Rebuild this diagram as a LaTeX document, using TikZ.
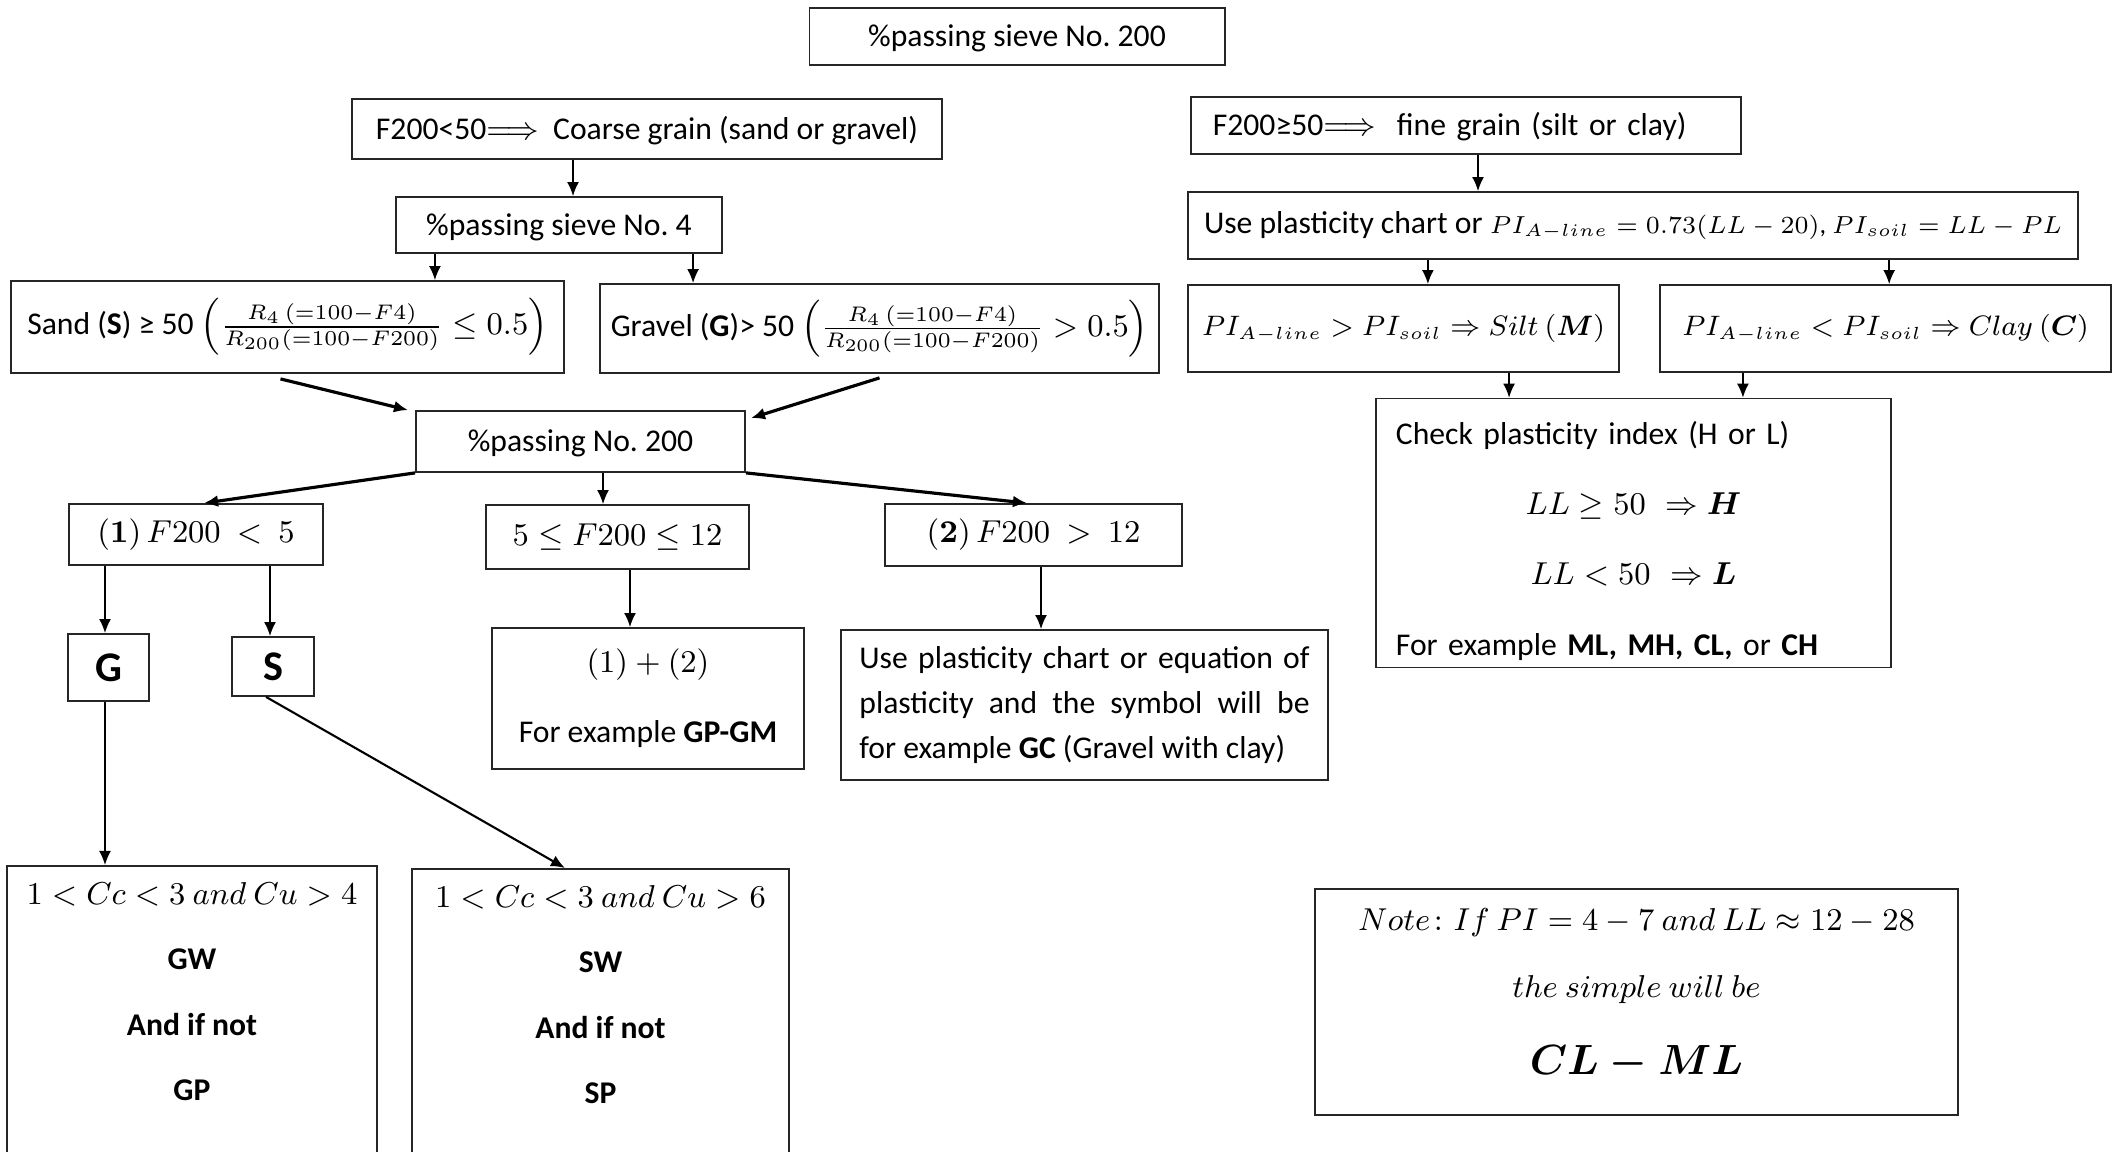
\documentclass[tikz,border=0pt]{standalone}
\usepackage{amsmath,amssymb}
\usepackage[no-math]{fontspec}
\setmainfont{Carlito}
\usetikzlibrary{arrows.meta}

\begin{document}
\begin{tikzpicture}[x=0.01cm, y=-0.01cm]
    \useasboundingbox (0,0) rectangle (2119,1152);

        \begin{scope}[every node/.style={rectangle,draw=black!85,line width=0.5pt,inner sep=2pt,font=\fontsize{9}{11}\selectfont},
                      txt/.style={text height=7.6pt,text depth=1.7pt}]
            % coarse branch
            \node[txt, minimum width=4.15cm, minimum height=0.57cm] (top) at (1017,36.5) {\%passing sieve No.\ 200};
            \node[txt, minimum width=5.89cm, minimum height=0.60cm] (coarse) at (647,129) {F200<50$\Longrightarrow$\ \ Coarse grain (sand or gravel)};
            \node[txt, minimum width=3.26cm, minimum height=0.56cm] (sieve4) at (559,225) {\%passing sieve No.\ 4};
            \node[minimum width=5.53cm, minimum height=0.92cm] (sand) at (287.5,327) {Sand (\textbf{S}) ≥ 50 $\left(\frac{R_4\,(=100-F4)}{R_{200}(=100-F200)} \leq 0.5\right)$};
            \node[minimum width=5.59cm, minimum height=0.89cm] (gravel) at (879.5,328.5) {Gravel (\textbf{G})> 50 $\left(\frac{R_4\,(=100-F4)}{R_{200}(=100-F200)} > 0.5\right)$};
            \node[txt, minimum width=3.29cm, minimum height=0.61cm] (pass200) at (580.5,441.5) {\%passing No.\ 200};
            \node[minimum width=2.54cm, minimum height=0.61cm] (f1) at (196,534.5) {$(\mathbf{1})\,F200\ <\ 5$};
            \node[minimum width=2.63cm, minimum height=0.64cm] (f512) at (617.5,537) {$5 \leq F200 \leq 12$};
            \node[minimum width=2.97cm, minimum height=0.62cm] (f2) at (1033.5,535) {$(\mathbf{2})\,F200\ >\ 12$};
            \node[minimum width=0.81cm, minimum height=0.67cm, font=\fontsize{12}{14}\selectfont\bfseries] (G) at (108.5,667.5) {G};
            \node[minimum width=0.82cm, minimum height=0.59cm, font=\fontsize{12}{14}\selectfont\bfseries] (S) at (273,666.5) {S};
            \node[minimum width=3.12cm, minimum height=1.41cm, align=center, font=\fontsize{9}{20}\selectfont] (ex12) at (648,698.5) {$(1) + (2)$\\ For example \textbf{GP-GM}};
            \node[minimum width=4.87cm, minimum height=1.50cm, text width=4.50cm, align=justify, font=\fontsize{9}{12.7}\selectfont] (gc) at (1084.5,705) {\noindent Use plasticity chart or equation of\linebreak plasticity and the symbol will be\linebreak for example \textbf{GC} (Gravel with clay)};
            \node[anchor=north, inner sep=0.1cm, minimum width=3.70cm] (gw) at (192,865) {\parbox[c][3.2cm][t]{3.4cm}{\centering\fontsize{9}{18.5}\selectfont
                \vspace*{2pt}$1 < Cc < 3\ and\ Cu > 4$\par \textbf{GW}\par \textbf{And if not}\par \textbf{GP}}};
            \node[anchor=north, inner sep=0.1cm, minimum width=3.77cm] (sw) at (600.5,868) {\parbox[c][3.2cm][t]{3.4cm}{\centering\fontsize{9}{18.5}\selectfont
                \vspace*{2pt}$1 < Cc < 3\ and\ Cu > 6$\par \textbf{SW}\par \textbf{And if not}\par \textbf{SP}}};

            % fine branch
            \node[txt, text width=5.06cm, inner xsep=0.22cm, minimum height=0.57cm, align=left] (fine) at (1466,125.5) {F200≥50$\Longrightarrow$\ \ fine grain (silt or clay)};
            \node[minimum width=8.90cm, minimum height=0.67cm] (chart) at (1633,225.5) {Use plasticity chart or {\fontsize{7.5}{10}\selectfont $PI_{A-line} = 0.73(LL-20)$, $PI_{soil} = LL - PL$}};
            \node[minimum width=4.31cm, minimum height=0.87cm, font=\fontsize{7.8}{10}\selectfont] (silt) at (1403.5,328.5) {$PI_{A-line} > PI_{soil} \Rightarrow Silt\ (\boldsymbol{M})$};
            \node[minimum width=4.51cm, minimum height=0.87cm, font=\fontsize{7.8}{10}\selectfont] (clay) at (1885.5,328.5) {$PI_{A-line} < PI_{soil} \Rightarrow Clay\ (\boldsymbol{C})$};
            \node[minimum width=5.15cm, minimum height=2.66cm, text width=4.75cm, inner xsep=0.2cm, font=\fontsize{9}{20}\selectfont] (check) at (1633.5,533) {\raggedright\rule{0pt}{11pt}Check plasticity index (H or L)\par
                \centering $LL \geq 50\ \Rightarrow \boldsymbol{H}$\par
                $LL < 50\ \Rightarrow \boldsymbol{L}$\par
                \raggedright For example \textbf{ML, MH, CL,} or \textbf{CH}\par};
            \node[minimum width=6.43cm, minimum height=2.26cm, align=center, font=\fontsize{9}{19}\selectfont] (note) at (1636.5,1002) {$Note\colon If\ PI = 4 - 7\ and\ LL \approx 12 - 28$\\ $the\ simple\ will\ be$\\[3pt] {\fontsize{11.5}{14}\selectfont $\boldsymbol{CL - ML}$\rule[-6pt]{0pt}{6pt}}};
        \end{scope}

        \begin{scope}[every edge/.style={draw=black,line width=0.45pt}]
            \path [-{Latex[length=4pt,width=3.4pt]}] ([xshift=0.14cm]sieve4.north |- coarse.south) edge ([xshift=0.14cm]sieve4.north);
            \path [-{Latex[length=4pt,width=3.4pt]}] ([xshift=-1.24cm]sieve4.south) edge ([xshift=-1.24cm]sieve4.south |- sand.north);
            \path [-{Latex[length=4pt,width=3.4pt]}] ([xshift=1.34cm]sieve4.south) edge ([xshift=1.34cm]sieve4.south |- gravel.north);

            \path [-{Latex[length=4pt,width=3.4pt]}] ([xshift=0.12cm]fine.south) edge ([xshift=0.12cm]fine.south |- chart.north);
            \path [-{Latex[length=4pt,width=3.4pt]}] ([xshift=-2.05cm]chart.south) edge ([xshift=-2.05cm]chart.south |- silt.north);
            \path [-{Latex[length=4pt,width=3.4pt]}] ([xshift=2.56cm]chart.south) edge ([xshift=2.56cm]chart.south |- clay.north);
            \path [-{Latex[length=4pt,width=3.4pt]}] ([xshift=1.055cm]silt.south) edge ([xshift=1.055cm]silt.south |- check.north);
            \path [-{Latex[length=4pt,width=3.4pt]}] ([xshift=-1.425cm]clay.south) edge ([xshift=-1.425cm]clay.south |- check.north);

            \path [-{Latex[length=4pt,width=3.4pt]}] ([shift={(-0.07cm,-0.05cm)}]sand.south) edge [line width=0.9pt] ([xshift=-0.07cm]pass200.north west);
            \path [-{Latex[length=4pt,width=3.4pt]}] ([yshift=-0.04cm]gravel.south) edge [line width=0.9pt] ([shift={(0.05cm,-0.08cm)}]pass200.north east);
            \path [-{Latex[length=4pt,width=3.4pt]}] (pass200.south west) edge [line width=0.9pt] ([xshift=0.08cm]f1.north);
            \path [-{Latex[length=4pt,width=3.4pt]}] ([xshift=0.225cm]pass200.south) edge ([xshift=0.225cm]pass200.south |- f512.north);
            \path [-{Latex[length=4pt,width=3.4pt]}] (pass200.south east) edge [line width=0.9pt] ([xshift=-0.065cm]f2.north);

            \path [-{Latex[length=4pt,width=3.4pt]}] ([xshift=-0.035cm]G.north |- f1.south) edge ([xshift=-0.035cm]G.north);
            \path [-{Latex[length=4pt,width=3.4pt]}] ([xshift=-0.03cm]S.north |- f1.south) edge ([xshift=-0.03cm]S.north);
            \path [-{Latex[length=4pt,width=3.4pt]}] ([xshift=0.125cm]f512.south) edge ([xshift=0.125cm]f512.south |- ex12.north);
            \path [-{Latex[length=4pt,width=3.4pt]}] ([xshift=0.075cm]f2.south) edge ([xshift=0.075cm]f2.south |- gc.north);

            \path [-{Latex[length=4pt,width=3.4pt]}] ([xshift=-0.035cm]G.south) edge ([xshift=-0.035cm]G.south |- gw.north);
            \path [-{Latex[length=4pt,width=3.4pt]}] ([xshift=-0.07cm]S.south) edge [line width=0.6pt] ([xshift=-0.355cm]sw.north);
        \end{scope}

\end{tikzpicture}
\end{document}
